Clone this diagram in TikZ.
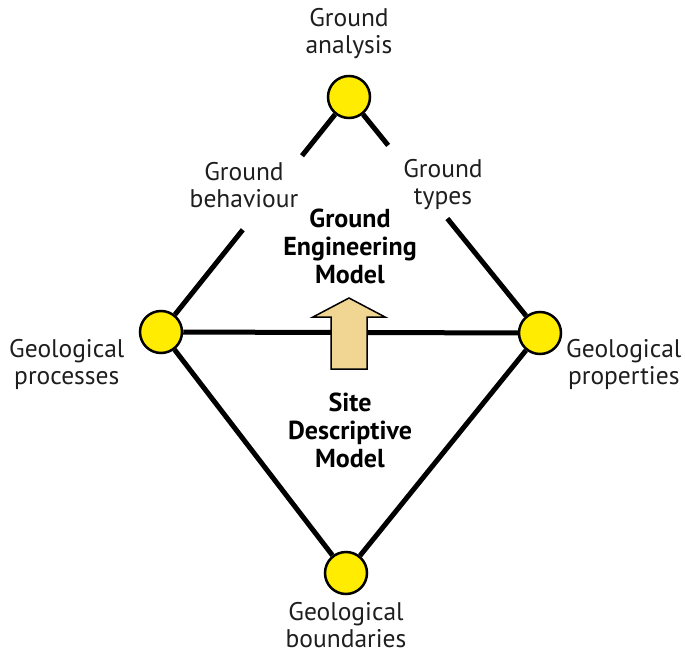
\documentclass[tikz,border=0pt]{standalone}
\usepackage{fontspec}
\setmainfont{PT Sans}
\usetikzlibrary{calc}
\definecolor{dotyellow}{RGB}{255,236,0}
\definecolor{arrowtan}{RGB}{240,214,146}
\definecolor{txt}{RGB}{30,30,30}
\tikzset{
  dot/.style={circle, draw=black, line width=2.5pt, fill=dotyellow, minimum size=42pt, inner sep=0pt},
  link/.style={line width=5pt, black},
  lbl/.style={align=center, text=txt, font=\fontsize{25.5}{27}\selectfont, inner sep=0pt},
  bold/.style={align=center, text=black, font=\fontsize{26}{28}\selectfont\bfseries, inner sep=0pt}
}
\begin{document}
\begin{tikzpicture}[x=1pt,y=-1pt]
\useasboundingbox (0,0) rectangle (685,655);
% nodes
\node[dot] (top) at (349,97) {};
\node[dot] (left) at (161,332) {};
\node[dot] (right) at (540,333) {};
\node[dot] (bot) at (346,573) {};
% connectors
\draw[link] (top) -- ($(top)!0.25!(left)$);
\draw[link] ($(top)!0.565!(left)$) -- (left);
\draw[link] (top) -- ($(top)!0.205!(right)$);
\draw[link] ($(top)!0.515!(right)$) -- (right);
\draw[link] (left) -- (right);
\draw[link] (left) -- (bot);
\draw[link] (right) -- (bot);
% arrow
\draw[line width=1.5pt, fill=arrowtan, line join=miter]
  (349,298) -- (385,317) -- (367,317) -- (367,369) -- (331,369) -- (331,317) -- (313,317) -- cycle;
% labels
\node[lbl] (lanalysis) at (349,34) {Ground\\analysis};
\node[lbl] (lbehav) at (244,185) {Ground\\behaviour};
\node[lbl] (ltypes) at (443,185) {Ground\\types};
\node[bold] (lgem) at (350,246) {Ground\\Engineering\\Model};
\node[lbl, anchor=west] (lproc) at (9,364) {Geological\\processes};
\node[lbl, anchor=west] (lprop) at (566,364) {Geological\\properties};
\node[bold] (lsdm) at (350,430) {Site\\Descriptive\\Model};
\node[lbl] (lbound) at (346,625) {Geological\\boundaries};
\end{tikzpicture}
\end{document}
